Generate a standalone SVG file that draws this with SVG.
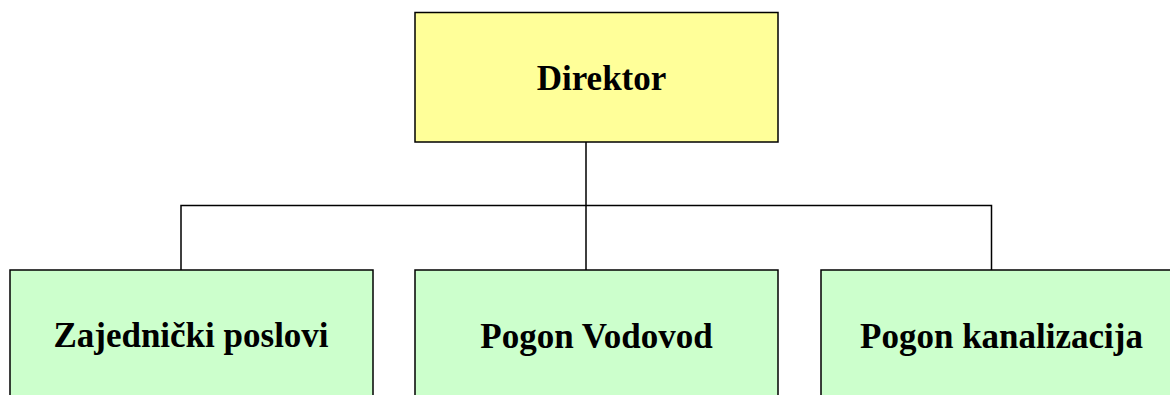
<svg xmlns="http://www.w3.org/2000/svg" width="1170" height="395" viewBox="0 0 1170 395">
<style>
.box{stroke:#000;stroke-width:1.5}
.top{fill:#FFFF99}
.sub{fill:#CCFFCC}
.lbl{font-family:"Liberation Serif","Times New Roman",serif;font-weight:bold;font-size:35px;fill:#000;text-anchor:middle}
.con{fill:none;stroke:#000;stroke-width:1.5}
</style>
<rect width="1170" height="395" fill="#fff"/>
<g id="connectors">
<path class="con" d="M586 142V205.5M181 270V205.5H991.5V270M586 205.5V270"/>
</g>
<g id="director">
<rect class="box top" x="415" y="12.5" width="363" height="129.5"/>
<text class="lbl" x="601.5" y="89.5">Direktor</text>
</g>
<g id="zajednicki">
<rect class="box sub" x="10" y="270" width="363" height="140"/>
<text class="lbl" x="191" y="347">Zajednički poslovi</text>
</g>
<g id="vodovod">
<rect class="box sub" x="415" y="270" width="363" height="140"/>
<text class="lbl" x="596.5" y="347.5">Pogon Vodovod</text>
</g>
<g id="kanalizacija">
<rect class="box sub" x="821" y="270" width="363" height="140"/>
<text class="lbl" x="1001.5" y="347.5">Pogon kanalizacija</text>
</g>
</svg>
